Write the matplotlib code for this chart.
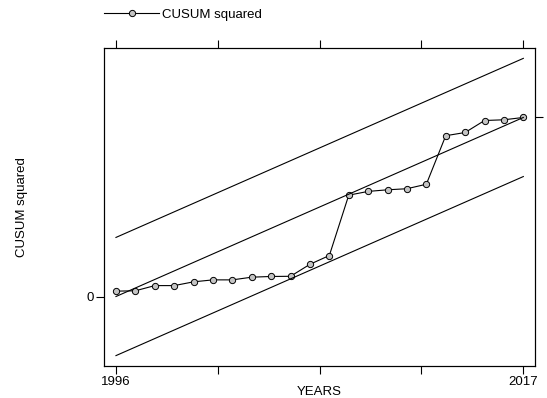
import numpy as np
import matplotlib
matplotlib.use("Agg")
import matplotlib.pyplot as plt

plt.rcParams['font.family'] = ['Liberation Sans', 'DejaVu Sans']

years = np.arange(1996, 2018)
cusum_sq = [0.030, 0.032, 0.061, 0.061, 0.082, 0.093, 0.093, 0.108, 0.112, 0.113,
            0.180, 0.229, 0.566, 0.587, 0.596, 0.602, 0.627, 0.898, 0.916, 0.983,
            0.987, 1.000]
band = 0.33  # critical value for the bounds

# expected path goes 0 -> 1 over the sample
expected = (years - years[0]) / (years[-1] - years[0])
upper = expected + band
lower = expected - band

fs = 9.5
fig = plt.figure(figsize=(5.47, 3.98), dpi=100)
ax = fig.add_axes([0.190, 0.0804, 0.788, 0.7986])

ax.plot(years, cusum_sq, color='black', lw=0.8, marker='o', ms=4.5,
        mfc='#c4c4c4', mec='black', mew=0.7, label='CUSUM squared')
for l in (expected, upper, lower):
    ax.plot(years, l, color='black', lw=0.8)

ax.set_xlim(1995.38, 2017.60)
ax.set_ylim(-0.388, 1.387)

xt = np.linspace(1996, 2017, 5)
ax.set_xticks(xt)
ax.set_xticklabels(['1996', '', '', '', '2017'])
ax.set_yticks([0])
ax.set_yticklabels(['0'])
ax.tick_params(axis='both', direction='out', length=6, width=0.8, labelsize=fs, pad=1.5)
ax.tick_params(top=True, labeltop=False)

# right axis: single tick at 1
ax2 = ax.twinx()
ax2.set_ylim(ax.get_ylim())
ax2.set_yticks([1])
ax2.set_yticklabels([''])
ax2.tick_params(direction='out', length=6, width=0.8)

for a in (ax, ax2):
    for s in a.spines.values():
        s.set_linewidth(0.8)

ax.set_xlabel('YEARS', fontsize=fs, labelpad=-1.5)
ax.set_ylabel('CUSUM squared', fontsize=fs, labelpad=42)

ax.legend(loc='lower left', bbox_to_anchor=(-0.012, 1.07), frameon=False,
          fontsize=fs, handlelength=4.2, borderaxespad=0, handletextpad=0.2)

fig.savefig('out.png', dpi=100)
